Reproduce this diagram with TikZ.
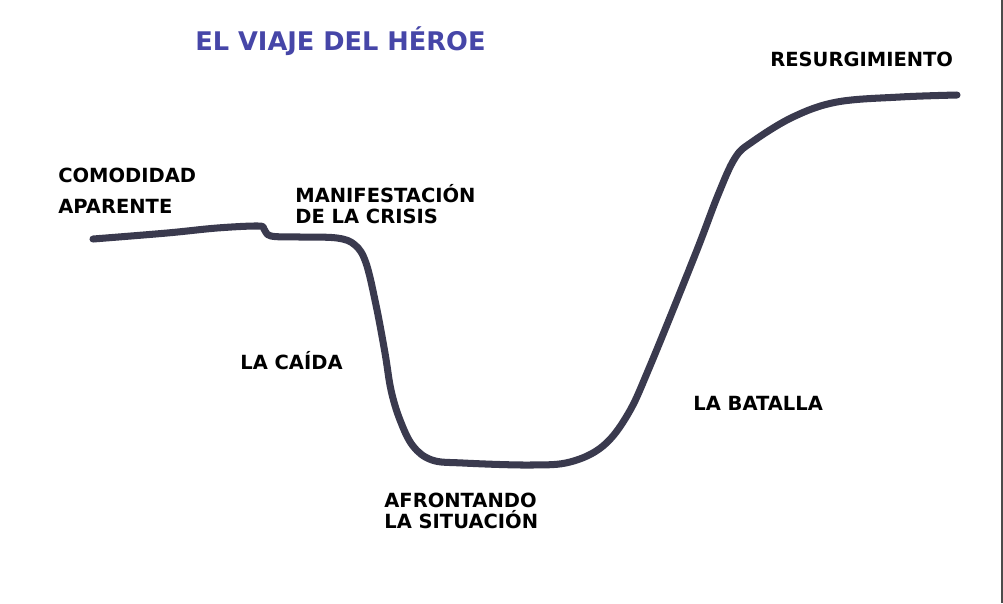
\documentclass[tikz,border=0pt]{standalone}
\usepackage{fontspec}
\setmainfont{DejaVu Sans}
\definecolor{tinta}{HTML}{3A3A4E}
\definecolor{azul}{HTML}{4646A8}
\begin{document}
\begin{tikzpicture}[x=0.02cm,y=-0.02cm,
    etiqueta/.style={anchor=base west, inner sep=0pt, align=left,
      font=\bfseries\fontsize{11.1pt}{11.9pt}\selectfont},
    curva/.style={tinta, line width=4pt, line cap=round, line join=round}]
            \useasboundingbox[fill=white] (0,0) rectangle (1003,603);
            \draw[black!70, line width=1.2pt] (1002,0) -- (1002,603);
            \node[etiqueta, azul, font=\bfseries\fontsize{14.6pt}{16pt}\selectfont] (titulo) at (195,50) {EL VIAJE DEL HÉROE};
            \draw[curva] plot[smooth, tension=0.6] coordinates {(93,239) (167,233) (217,228) (258,226) (264,229) (271,236) (300,237) (337,238) (355,245) (366,263) (376,305) (385,353) (391,390) (400,420) (413,446) (432,460) (463,463) (530,465) (570,462) (603,446) (628,414) (650,366) (695,255) (718,195) (735,158) (752,142) (793,117) (837,102) (900,97) (957,95)};
            \node[etiqueta] (comodidad) at (58,213) {COMODIDAD\\[5.7pt]APARENTE};
            \node[etiqueta] (crisis) at (295,223) {MANIFESTACIÓN\\DE LA CRISIS};
            \node[etiqueta] (caida) at (240,369) {LA CAÍDA};
            \node[etiqueta] (afrontando) at (384,528) {AFRONTANDO\\LA SITUACIÓN};
            \node[etiqueta] (batalla) at (693,410) {LA BATALLA};
            \node[etiqueta] (resurgimiento) at (770,66) {RESURGIMIENTO};
\end{tikzpicture}
\end{document}
